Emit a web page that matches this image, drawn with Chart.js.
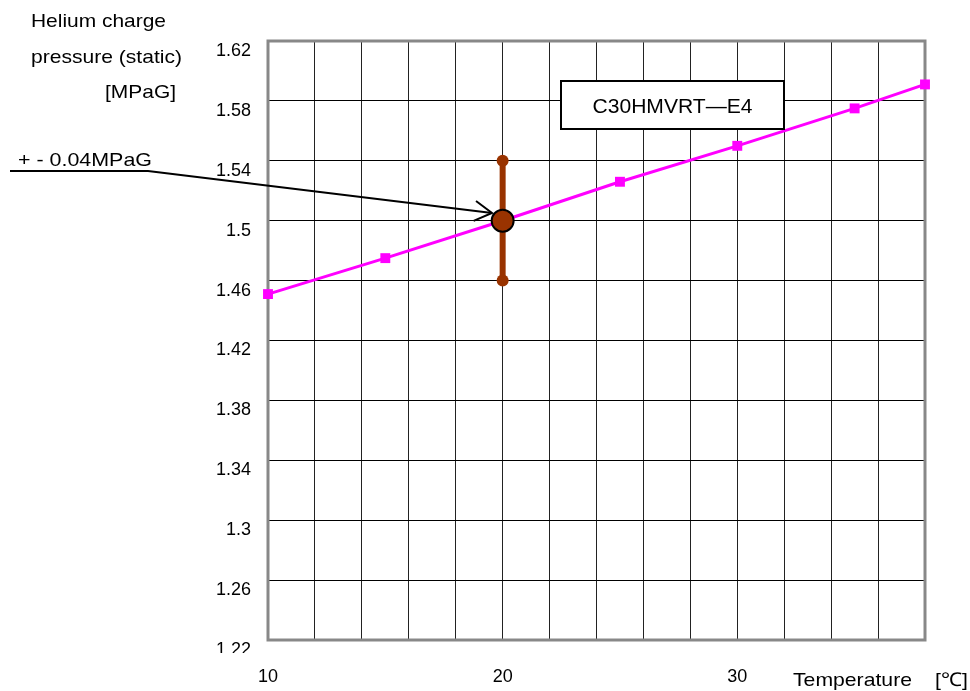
<!DOCTYPE html>
<html><head><meta charset="utf-8">
<script src="https://cdn.jsdelivr.net/npm/chart.js@4.4.0/dist/chart.umd.min.js"></script>
<style>html,body{margin:0;padding:0;background:#fff;}#wrap{width:970px;height:691px;position:relative;}</style>
</head><body><div id="wrap"><canvas id="c"></canvas></div>
<script>
// ---- data ----
const temperatures = [10, 15, 20, 25, 30, 35, 38];
const pressures = [1.451, 1.475, 1.500, 1.526, 1.550, 1.575, 1.591];
const refTemperature = 20;
const refPressure = 1.50;
const tolerance = 0.04;
const xTickLabels = [10, 20, 30];
const yTickValues = [1.22, 1.26, 1.30, 1.34, 1.38, 1.42, 1.46, 1.50, 1.54, 1.58, 1.62];
const modelName = 'C30HMVRT\u2014E4';
const toleranceLabel = '+ - 0.04MPaG';
const yTitleLines = ['Helium charge', 'pressure (static)', '[MPaG]'];
const xTitle = 'Temperature';
const xUnit = '[\u2103]';

const FONT = '"Liberation Sans", Arial, sans-serif';

function stretchText(ctx, text, x, y, size, width, align) {
  ctx.save();
  ctx.font = size + 'px ' + FONT;
  const w = ctx.measureText(text).width;
  const sx = width ? width / w : 1;
  ctx.textBaseline = 'alphabetic';
  ctx.textAlign = 'left';
  let x0 = x;
  if (align === 'center') x0 = x - (w * sx) / 2;
  ctx.translate(x0, y);
  ctx.scale(sx, 1);
  ctx.fillStyle = '#000';
  ctx.fillText(text, 0, 0);
  ctx.restore();
}

const decorPlugin = {
  id: 'decor',
  beforeDatasetsDraw(chart) {
    const {ctx, chartArea: a} = chart;
    ctx.save();
    ctx.strokeStyle = '#888';
    ctx.lineWidth = 3;
    ctx.strokeRect(a.left, a.top, a.right - a.left, a.bottom - a.top);
    ctx.restore();
  },
  afterDatasetsDraw(chart) {
    const {ctx} = chart;
    ctx.save();
    // model label box
    ctx.fillStyle = '#fff';
    ctx.fillRect(561, 81, 223, 48);
    ctx.strokeStyle = '#000';
    ctx.lineWidth = 2;
    ctx.strokeRect(561, 81, 223, 48);
    stretchText(ctx, modelName, 672.5, 113, 20, 160, 'center');
    // tolerance annotation with arrow
    ctx.strokeStyle = '#000';
    ctx.lineWidth = 2;
    ctx.beginPath();
    ctx.moveTo(10, 171);
    ctx.lineTo(148, 171);
    const tx = 492, ty = 213;
    ctx.lineTo(tx, ty);
    ctx.stroke();
    const ang = Math.atan2(ty - 171, tx - 148);
    const L = 20, sp = Math.PI / 6;
    ctx.beginPath();
    ctx.moveTo(tx - L * Math.cos(ang - sp), ty - L * Math.sin(ang - sp));
    ctx.lineTo(tx, ty);
    ctx.lineTo(tx - L * Math.cos(ang + sp), ty - L * Math.sin(ang + sp));
    ctx.stroke();
    ctx.restore();
  },
  afterDraw(chart) {
    const {ctx} = chart;
    // clipped bottom tick label as in reference
    ctx.save();
    ctx.fillStyle = '#fff';
    ctx.fillRect(195, 653, 65, 8);
    ctx.restore();
    stretchText(ctx, toleranceLabel, 18, 166, 19, 134);
    stretchText(ctx, yTitleLines[0], 31, 27, 19, 135);
    stretchText(ctx, yTitleLines[1], 31, 63, 19, 151);
    stretchText(ctx, yTitleLines[2], 105, 98, 19, 71);
    stretchText(ctx, xTitle, 793, 686, 19, 119);
    stretchText(ctx, xUnit, 935, 686, 19, 33);
  }
};

new Chart(document.getElementById('c'), {
  type: 'scatter',
  data: {
    datasets: [
      {
        label: 'ref',
        data: [{x: refTemperature, y: refPressure}],
        showLine: false,
        pointRadius: 11,
        pointBackgroundColor: '#993300',
        pointBorderColor: '#000',
        pointBorderWidth: 2,
        clip: false
      },
      {
        label: 'tol',
        data: [{x: refTemperature, y: refPressure - tolerance}, {x: refTemperature, y: refPressure + tolerance}],
        showLine: true,
        borderColor: '#993300',
        borderWidth: 6,
        pointRadius: 6,
        pointBackgroundColor: '#993300',
        pointBorderWidth: 0,
        clip: false
      },
      {
        label: 'pressure',
        data: temperatures.map((t, i) => ({x: t, y: pressures[i]})),
        showLine: true,
        borderColor: '#FF00FF',
        borderWidth: 3,
        pointStyle: 'rect',
        pointRadius: 7,
        pointBackgroundColor: '#FF00FF',
        pointBorderWidth: 0,
        clip: false
      }
    ]
  },
  options: {
    responsive: true,
    maintainAspectRatio: false,
    animation: false,
    layout: {padding: {left: 0, top: 41, right: 45, bottom: 0}},
    plugins: {legend: {display: false}, tooltip: {enabled: false}},
    scales: {
      x: {
        type: 'linear', min: 10, max: 38,
        afterFit: s => { s.height = 51; },
        grid: {color: '#222', lineWidth: 1, drawTicks: false},
        border: {display: false},
        ticks: {
          stepSize: 2, autoSkip: false, maxRotation: 0, padding: 26,
          color: '#000', font: {family: FONT, size: 18},
          callback: v => xTickLabels.includes(v) ? String(v) : ''
        }
      },
      y: {
        type: 'linear', min: 1.22, max: 1.62,
        afterFit: s => { s.width = 268; },
        afterBuildTicks: s => { s.ticks = yTickValues.map(v => ({value: v})); },
        grid: {color: '#000', lineWidth: 1, drawTicks: false},
        border: {display: false},
        ticks: {
          padding: 17, labelOffset: 10, color: '#000',
          font: {family: FONT, size: 18},
          callback: v => String(parseFloat(Number(v).toFixed(2)))
        }
      }
    }
  },
  plugins: [decorPlugin]
});
</script></body></html>
